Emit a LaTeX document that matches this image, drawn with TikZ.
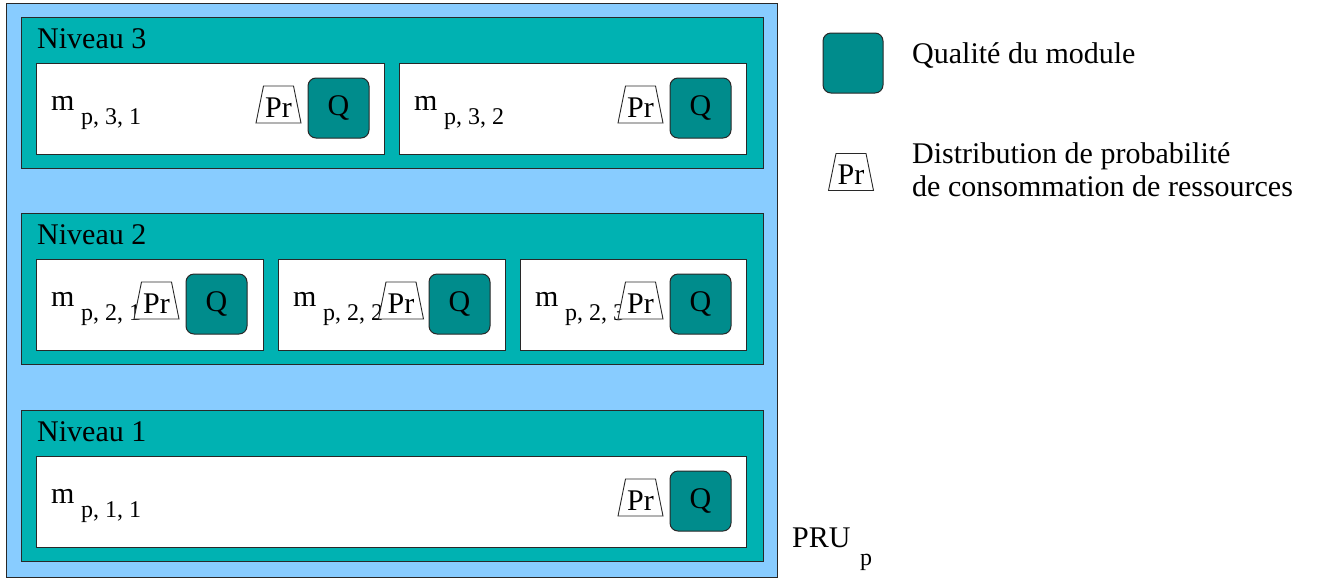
\documentclass[tikz,border=0pt]{standalone}
\usepackage{fontspec}
\setmainfont{Liberation Serif}
\definecolor{skyb}{RGB}{136,204,255}
\definecolor{tealA}{RGB}{0,178,178}
\definecolor{tealB}{RGB}{0,140,140}
\definecolor{edge}{RGB}{40,40,40}
\tikzset{
  prubox/.style={draw=edge, fill=skyb, line width=1.3pt, inner sep=0, anchor=north west},
  nivbox/.style={draw=edge, fill=tealA, line width=1.3pt, inner sep=0, anchor=north west},
  modbox/.style={draw=edge, fill=white, line width=1.3pt, inner sep=0, anchor=north west},
  qbox/.style={draw=edge, fill=tealB, line width=1pt, rounded corners=8pt, inner sep=0, minimum width=61pt, minimum height=60pt},
  txt/.style={font=\fontsize{30}{36}\selectfont, inner sep=0},
  subtxt/.style={font=\fontsize{24}{28}\selectfont, inner sep=0},
  prshape/.pic={
    \draw[draw=edge, fill=white, line width=0.9pt] (-15,-18.5) -- (15,-18.5) -- (22.5,18.5) -- (-22.5,18.5) -- cycle;
    \node[txt, anchor=base] (-t) at (0,12.5) {Pr};
  }
}
\begin{document}
\begin{tikzpicture}[x=1pt, y=-1pt]
\useasboundingbox (0,0) rectangle (1321,579);
% outer PRU
\node[prubox, minimum width=771pt, minimum height=574pt] (pru) at (6,3) {};
% levels
\node[nivbox, minimum width=742pt, minimum height=151pt] (n3) at (21,17) {};
\node[nivbox, minimum width=742pt, minimum height=151pt] (n2) at (21,213) {};
\node[nivbox, minimum width=742pt, minimum height=151pt] (n1) at (21,410) {};
\node[txt, anchor=base west] (l3) at (37,48) {Niveau 3};
\node[txt, anchor=base west] (l2) at (37,244) {Niveau 2};
\node[txt, anchor=base west] (l1) at (37,441) {Niveau 1};
% level 3 modules
\node[modbox, minimum width=348pt, minimum height=91pt] (m31) at (36,63) {};
\node[modbox, minimum width=347pt, minimum height=91pt] (m32) at (399,63) {};
% level 2 modules
\node[modbox, minimum width=227pt, minimum height=91pt] (m21) at (36,259) {};
\node[modbox, minimum width=227pt, minimum height=91pt] (m22) at (278,259) {};
\node[modbox, minimum width=226pt, minimum height=91pt] (m23) at (520,259) {};
% level 1 module
\node[modbox, minimum width=710pt, minimum height=91pt] (m11) at (36,456) {};
% module labels
\node[txt, anchor=base west] (t31) at (51,110) {m};
\node[subtxt, anchor=base west] (s31) at (81,124) {p, 3, 1};
\node[txt, anchor=base west] (t32) at (414,110) {m};
\node[subtxt, anchor=base west] (s32) at (444,124) {p, 3, 2};
\node[txt, anchor=base west] (t21) at (51,306) {m};
\node[subtxt, anchor=base west] (s21) at (81,320) {p, 2, 1};
\node[txt, anchor=base west] (t22) at (293,306) {m};
\node[subtxt, anchor=base west] (s22) at (323,320) {p, 2, 2};
\node[txt, anchor=base west] (t23) at (535,306) {m};
\node[subtxt, anchor=base west] (s23) at (565,320) {p, 2, 3};
\node[txt, anchor=base west] (t11) at (51,503) {m};
\node[subtxt, anchor=base west] (s11) at (81,517) {p, 1, 1};
% Pr shapes
\pic (p31) at (278.5,104.5) {prshape};
\pic (p32) at (640.5,104.5) {prshape};
\pic (p21) at (156.5,300.5) {prshape};
\pic (p22) at (401,300.5) {prshape};
\pic (p23) at (640.5,300.5) {prshape};
\pic (p11) at (640.5,497.5) {prshape};
% Q boxes
\node[qbox] (q31) at (338.5,108) {};
\node[qbox] (q32) at (700.5,108) {};
\node[qbox] (q21) at (216.5,304) {};
\node[qbox] (q22) at (459.5,304) {};
\node[qbox] (q23) at (700.5,304) {};
\node[qbox] (q11) at (700.5,501) {};
\foreach \q in {q31,q32,q21,q22,q23,q11}{
  \node[txt, anchor=base] (\q-t) at ([yshift=-7pt]\q.center) {Q};
}
% PRU label
\node[txt, anchor=base west] (prul) at (792,547) {PRU};
\node[subtxt, anchor=base west] (prus) at (860,565) {p};
% legend
\node[qbox, minimum width=60pt] (lq) at (853,63) {};
\node[txt, anchor=base west] (lqt) at (912,63) {Qualité du module};
\pic (lp) at (851,172) {prshape};
\node[txt, anchor=base west] (lpt1) at (912,163) {Distribution de probabilité};
\node[txt, anchor=base west] (lpt2) at (912,196) {de consommation de ressources};
\end{tikzpicture}
\end{document}
